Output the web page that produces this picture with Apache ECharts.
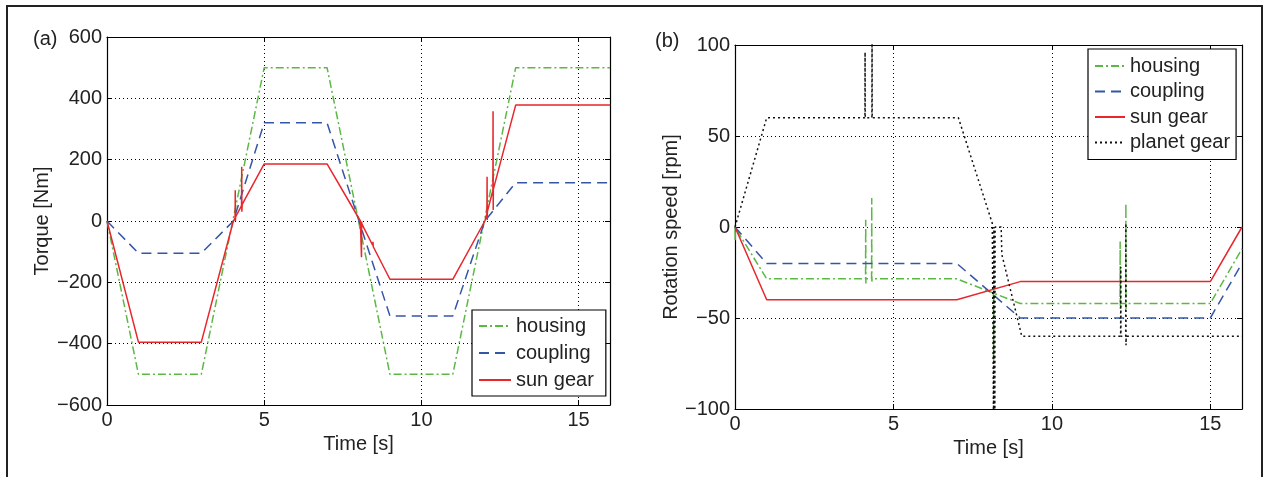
<!DOCTYPE html>
<html><head><meta charset="utf-8">
<script src="https://cdn.jsdelivr.net/npm/echarts@6/dist/echarts.min.js"></script>
<style>html,body{margin:0;padding:0;background:#fff}#c{width:1268px;height:477px}</style>
</head><body><div id="c"></div>
<script>
// ---------- data ----------
const seriesNamesA = ['housing', 'coupling', 'sun gear'];
const seriesNamesB = ['housing', 'coupling', 'sun gear', 'planet gear'];
const panelLabels = ['(a)', '(b)'];
const xTitle = 'Time [s]';
const yTitleA = 'Torque [Nm]';
const yTitleB = 'Rotation speed [rpm]';

// (a) torque [Nm] vs time [s]
const torqueHousing = [[0,0],[1,-500],[3,-500],[5,500],[7,500],[9,-500],[11,-500],[13,500],[16,500]];
const torqueCoupling = [[0,0],[1,-105],[3,-105],[4.02,0],[5,320],[7,320],[9,-310],[11,-310],[12.02,0],[13,125],[16,125]];
const torqueSun = [[0,0],[1,-395],[3,-395],[4.02,0],[4.075,10],[4.08,100],[4.085,0],[4.09,13],
  [4.28,50],[4.285,177],[4.29,30],[4.3,54],[5,186],[7,186],
  [8.06,0],[8.09,-6],[8.095,-118],[8.1,-2],[8.11,-10],[8.45,-79],[8.46,-68],[8.47,-84],[9,-190],[11,-190],
  [12.02,0],[12.085,25],[12.09,144],[12.095,3],[12.1,31],[12.275,100],[12.28,358],[12.285,36],[12.29,104],[13,378],[16,378]];

// (b) rotation speed [rpm] vs time [s]
const rpmHousing = [[0,0],[0.004,-8],[0.008,-0.3],[1,-28.5],[4.12,-28.5],[4.125,4],[4.13,-31],[4.135,-28.5],
  [4.31,-28.5],[4.315,16],[4.32,-30],[4.325,-28.5],[7,-28.5],[8.155,-36.3],[8.16,-73],[8.165,-36.4],[9,-42],
  [12.15,-42],[12.155,-8],[12.16,-45],[12.165,-42],[12.33,-42],[12.335,13],[12.34,-45],[12.345,-42],[15,-42],[16,-12]];
const rpmCoupling = [[0,0],[1,-20],[7,-20],[9,-50],[15,-50],[16,-20]];
const rpmSun = [[0,0],[1,-40],[7,-40],[9,-30],[15,-30],[16,0]];
const rpmPlanet = [[0,0],[1,60],[4.1,60],[4.105,96],[4.11,60],[4.32,60],[4.325,108],[4.33,60],[7.05,60],
  [8.12,2],[8.16,-110],[8.17,0],[8.2,-110],[8.21,0],[8.4,0],[8.42,-15],[9.05,-60],
  [12.17,-60],[12.175,-22],[12.18,-60],[12.33,-60],[12.335,2],[12.34,-65],[12.345,-60],[16,-60]];

// ---------- styles ----------
const FONT = 'Liberation Sans, Arial, Helvetica, sans-serif';
const TXT = '#222';
const C_H = '#5cb845', C_C = '#3556a8', C_S = '#e8262b', C_P = '#111';
const fmt = v => (v < 0 ? '\u2212' + Math.abs(v) : String(v));
const AX_LINE = {show:true, onZero:false, lineStyle:{color:'#000', width:1.2}};
const AX_TICK = {show:true, inside:true, length:5, lineStyle:{color:'#000'}};
const SPLIT = {show:true, lineStyle:{type:[1,3], color:'#000', width:1}};

function xMain(grid) {
  return { type:'value', gridIndex:grid, min:0, max:16, interval:5, position:'bottom',
    name:xTitle, nameLocation:'middle', nameGap:22,
    nameTextStyle:{fontSize:20, color:TXT, fontFamily:FONT},
    axisLine:AX_LINE, axisTick:AX_TICK,
    axisLabel:{fontSize:20, color:TXT, fontFamily:FONT, margin:5, showMaxLabel:false, formatter:fmt},
    splitLine:SPLIT };
}
function xTop(grid) {
  return { type:'value', gridIndex:grid, min:0, max:16, interval:5, position:'top',
    axisLine:AX_LINE, axisTick:AX_TICK, axisLabel:{show:false}, splitLine:{show:false} };
}
function yMain(grid, min, max, iv, name, gap) {
  return { type:'value', gridIndex:grid, min:min, max:max, interval:iv, position:'left',
    name:name, nameLocation:'middle', nameGap:gap, nameRotate:90,
    nameTextStyle:{fontSize:20, color:TXT, fontFamily:FONT},
    axisLine:AX_LINE, axisTick:AX_TICK,
    axisLabel:{fontSize:20, color:TXT, fontFamily:FONT, margin:5, formatter:fmt},
    splitLine:SPLIT };
}
function yRight(grid, min, max, iv) {
  return { type:'value', gridIndex:grid, min:min, max:max, interval:iv, position:'right',
    axisLine:AX_LINE, axisTick:AX_TICK, axisLabel:{show:false}, splitLine:{show:false} };
}
function line(name, data, color, type, xi, yi) {
  return { type:'line', name:name, data:data, xAxisIndex:xi, yAxisIndex:yi,
    showSymbol:false, symbol:'none', animation:false, clip:true,
    lineStyle:{color:color, width:1.5, type:type}, itemStyle:{color:color} };
}
const legendBase = { orient:'vertical', backgroundColor:'#fff', borderColor:'#000', borderWidth:1.2,
  itemWidth:32, itemHeight:14, itemGap:7, inactiveColor:'#ccc',
  itemStyle:{opacity:0},
  textStyle:{fontSize:20, color:TXT, fontFamily:FONT, lineHeight:20} };

const chart = echarts.init(document.getElementById('c'), null, {renderer:'canvas'});
chart.setOption({
  backgroundColor:'#fff',
  animation:false,
  grid:[
    {left:107, top:37, width:503, height:368},
    {left:735, top:45, width:507, height:364}
  ],
  xAxis:[xMain(0), xTop(0), xMain(1), xTop(1)],
  yAxis:[yMain(0,-600,600,200,yTitleA,55), yRight(0,-600,600,200),
         yMain(1,-100,100,50,yTitleB,53), yRight(1,-100,100,50)],
  legend:[
    Object.assign({}, legendBase, {left:472, top:310, padding:[6,12,6,6],
      data:seriesNamesA.map(n=>({name:n})) , id:'la'}),
    Object.assign({}, legendBase, {left:1088, top:49, padding:[7,6,7,6], itemGap:5.5, itemWidth:30,
      data:seriesNamesB.map(n=>({name:n})), id:'lb'})
  ],
  series:[
    line(seriesNamesA[0], torqueHousing, C_H, [8,3,2,3], 0, 0),
    line(seriesNamesA[1], torqueCoupling, C_C, [10,6], 0, 0),
    line(seriesNamesA[2], torqueSun, C_S, 'solid', 0, 0),
    line(seriesNamesB[0], rpmHousing, C_H, [8,3,2,3], 2, 2),
    line(seriesNamesB[1], rpmCoupling, C_C, [10,6], 2, 2),
    line(seriesNamesB[2], rpmSun, C_S, 'solid', 2, 2),
    line(seriesNamesB[3], rpmPlanet, C_P, [2,3], 2, 2)
  ],
  graphic:[
    {type:'line', shape:{x1:6, y1:6, x2:1262, y2:6}, style:{stroke:'#222', lineWidth:2}},
    {type:'line', shape:{x1:7, y1:5, x2:7, y2:477}, style:{stroke:'#222', lineWidth:2}},
    {type:'line', shape:{x1:1262, y1:5, x2:1262, y2:477}, style:{stroke:'#222', lineWidth:2}},
    {type:'text', left:33, top:29, style:{text:panelLabels[0], fontSize:20, fill:TXT, fontFamily:FONT}},
    {type:'text', left:655, top:31, style:{text:panelLabels[1], fontSize:20, fill:TXT, fontFamily:FONT}}
  ]
});
</script></body></html>
